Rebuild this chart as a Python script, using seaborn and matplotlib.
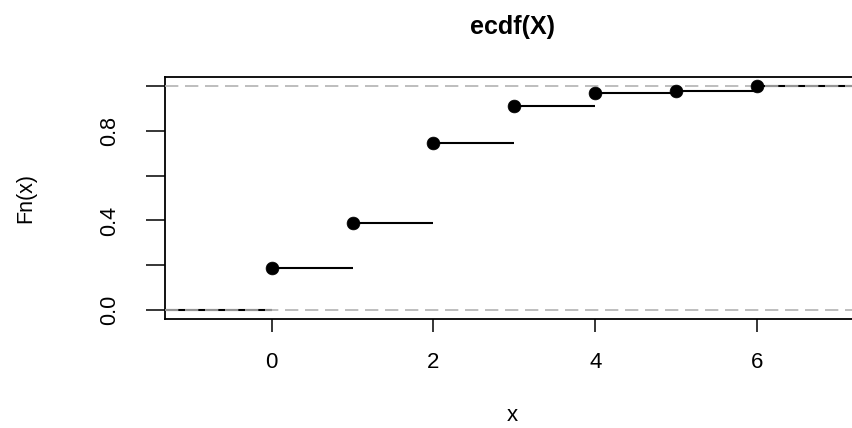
import matplotlib
matplotlib.use("Agg")
import matplotlib.pyplot as plt
import seaborn as sns
import pandas as pd

# data
x_vals = [0, 1, 2, 3, 4, 5, 6]
fn_vals = [0.19, 0.387, 0.745, 0.909, 0.967, 0.978, 1.0]
x_ticks = [0, 2, 4, 6]
y_ticks = [0.0, 0.2, 0.4, 0.6, 0.8, 1.0]
y_tick_labels = ["0.0", "", "0.4", "", "0.8", ""]
title = "ecdf(X)"
xlabel = "x"
ylabel = "Fn(x)"

sns.set_style("white")
plt.rcParams["font.family"] = ["Liberation Sans", "DejaVu Sans"]
plt.rcParams["text.color"] = "black"
plt.rcParams["axes.labelcolor"] = "black"
plt.rcParams["xtick.color"] = "black"
plt.rcParams["ytick.color"] = "black"

df = pd.DataFrame({"x": x_vals, "Fn": fn_vals})

fig = plt.figure(figsize=(8.53, 4.28), dpi=100)
ax = fig.add_axes([164.8 / 853, 1 - 319.3 / 428, (864 - 164.8) / 853, (319.3 - 76.7) / 428])

xmin, xmax = -1.32, 7.32
# step segments
ends = x_vals[1:] + [xmax]
ax.hlines(fn_vals, x_vals, ends, color="black", lw=1.5, zorder=2)
ax.hlines([0], xmin, x_vals[0], color="black", lw=1.5, zorder=2)
# reference lines
ax.axhline(0, color="#b3b3b3", lw=1.2, ls=(0, (8, 4)), zorder=3)
ax.axhline(1, color="#b3b3b3", lw=1.2, ls=(0, (8, 4)), zorder=3)

sns.scatterplot(data=df, x="x", y="Fn", ax=ax, color="black", s=85,
                edgecolor="black", linewidth=0.5, zorder=4, legend=False)

ax.set_xlim(xmin, xmax)
ax.set_ylim(-0.04, 1.04)
ax.set_xticks(x_ticks)
ax.set_xticklabels([str(t) for t in x_ticks], fontsize=16)
ax.set_yticks(y_ticks)
ax.set_yticklabels(y_tick_labels, fontsize=15.5, rotation=90, va="center")
ax.tick_params(axis="x", direction="out", length=9.5, width=1.1, pad=14, colors="black", bottom=True)
ax.tick_params(axis="y", direction="out", length=13.5, width=1.1, pad=19, colors="black", left=True)

for s in ax.spines.values():
    s.set_visible(True)
    s.set_color("black")
    s.set_linewidth(1.3)

ax.set_xlabel(xlabel, fontsize=16)
ax.set_ylabel(ylabel, fontsize=15.5)
ax.xaxis.set_label_coords(0.497, -0.355)
ax.yaxis.set_label_coords(-0.184, 0.5)
ax.text(0.497, 1.205, title, transform=ax.transAxes, ha="center", va="center",
        fontsize=18, fontweight="bold")

fig.savefig("out.png", dpi=100)
